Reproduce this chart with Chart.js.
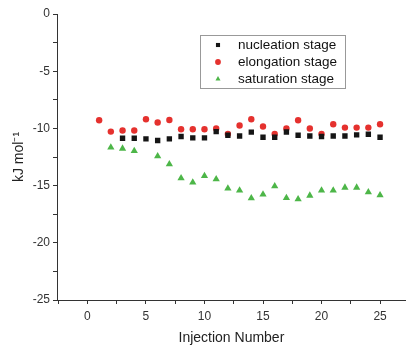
<!DOCTYPE html>
<html lang="en">
<head>
    <meta charset="UTF-8">
    <title>Injection stages</title>
    <script src="https://cdn.jsdelivr.net/npm/chart.js"></script>
    <style>
        body { margin: 0; background: #fff; }
        canvas { display: block; }
    </style>
</head>
<body>
    <canvas id="stageChart" width="410" height="347"></canvas>

    <script>
        // values
        const nucleationX = [3, 4, 5, 6, 7, 8, 9, 10, 11, 12, 13, 14, 15, 16, 17, 18, 19, 20, 21, 22, 23, 24, 25];
        const nucleationY = [-10.86, -10.86, -10.92, -11.06, -10.92, -10.71, -10.83, -10.83, -10.28, -10.6, -10.66, -10.33,
            -10.77, -10.77, -10.31, -10.6, -10.66, -10.71, -10.66, -10.66, -10.57, -10.51, -10.77];

        const elongationX = [1, 2, 3, 4, 5, 6, 7, 8, 9, 10, 11, 12, 13, 14, 15, 16, 17, 18, 19, 20, 21, 22, 23, 24, 25];
        const elongationY = [-9.29, -10.28, -10.19, -10.19, -9.2, -9.49, -9.26, -10.07, -10.07, -10.07, -10.01, -10.48,
            -9.75, -9.2, -9.84, -10.48, -10.01, -9.29, -10.01, -10.48, -9.64, -9.93, -9.93, -9.93, -9.64];

        const saturationX = [2, 3, 4, 6, 7, 8, 9, 10, 11, 12, 13, 14, 15, 16, 17, 18, 19, 20, 21, 22, 23, 24, 25];
        const saturationY = [-11.67, -11.76, -11.97, -12.43, -13.13, -14.35, -14.73, -14.15, -14.44, -15.25, -15.43, -16.1,
            -15.78, -15.05, -16.07, -16.19, -15.87, -15.43, -15.43, -15.17, -15.17, -15.57, -15.84];

        const xTicks = [-2.5, 0, 2.5, 5, 7.5, 10, 12.5, 15, 17.5, 20, 22.5, 25];
        const yTicks = [-25, -22.5, -20, -17.5, -15, -12.5, -10, -7.5, -5, -2.5, 0];

        const toPoints = (xs, ys) => xs.map((x, i) => ({ x: x, y: ys[i] }));

        const axisColor = '#333';
        const labelFont = { family: 'Liberation Sans, Arial, sans-serif', size: 12 };
        const titleFont = { family: 'Liberation Sans, Arial, sans-serif', size: 14 };

        // legend box inside the plot, drawn with the dataset marker styles
        const boxLegend = {
            id: 'boxLegend',
            afterDraw(chart) {
                const ctx = chart.ctx;
                ctx.save();
                ctx.strokeStyle = '#999';
                ctx.lineWidth = 1;
                ctx.strokeRect(200.5, 35.5, 145, 53);
                ctx.font = '13.5px "Liberation Sans", Arial, sans-serif';
                ctx.textBaseline = 'middle';
                chart.data.datasets.forEach((ds, i) => {
                    const y = 45 + i * 17;
                    ctx.fillStyle = ds.backgroundColor;
                    ctx.strokeStyle = ds.backgroundColor;
                    Chart.helpers.drawPoint(ctx, { pointStyle: ds.pointStyle, radius: 2.9, borderWidth: 0 }, 218, y);
                    ctx.fillStyle = '#111';
                    ctx.fillText(ds.label, 238, y + 0.5);
                });
                ctx.restore();
            }
        };

        const stageChart = new Chart(document.getElementById('stageChart'), {
            type: 'scatter',
            data: {
                datasets: [
                    {
                        label: 'nucleation stage',
                        data: toPoints(nucleationX, nucleationY),
                        pointStyle: 'rect',
                        pointRadius: 3.8,
                        backgroundColor: '#151515',
                        borderColor: '#151515',
                        borderWidth: 0,
                    },
                    {
                        label: 'elongation stage',
                        data: toPoints(elongationX, elongationY),
                        pointStyle: 'circle',
                        pointRadius: 3.2,
                        backgroundColor: '#e5312e',
                        borderColor: '#e5312e',
                        borderWidth: 0,
                    },
                    {
                        label: 'saturation stage',
                        data: toPoints(saturationX, saturationY),
                        pointStyle: 'triangle',
                        pointRadius: 4.2,
                        backgroundColor: '#4db648',
                        borderColor: '#4db648',
                        borderWidth: 0,
                    },
                ],
            },
            options: {
                responsive: false,
                animation: false,
                layout: { padding: { top: 14, right: 0, bottom: 0, left: 0 } },
                plugins: {
                    legend: { display: false },
                    tooltip: { enabled: false },
                },
                scales: {
                    x: {
                        type: 'linear',
                        min: -2.6,
                        max: 27.2,
                        afterBuildTicks: axis => { axis.ticks = xTicks.map(v => ({ value: v })); },
                        afterFit: axis => { axis.height = 47; },
                        border: { color: axisColor, width: 1 },
                        grid: { drawOnChartArea: false, tickLength: 4, color: axisColor },
                        ticks: {
                            autoSkip: false,
                            maxRotation: 0,
                            padding: 5,
                            color: '#333',
                            font: labelFont,
                            callback: v => (v % 5 === 0 ? v : ''),
                        },
                        title: {
                            display: true,
                            text: 'Injection Number',
                            color: '#222',
                            font: titleFont,
                            padding: { top: 0, bottom: 0 },
                        },
                    },
                    y: {
                        min: -25,
                        max: 0,
                        afterBuildTicks: axis => { axis.ticks = yTicks.map(v => ({ value: v })); },
                        afterFit: axis => { axis.width = 57; },
                        border: { color: axisColor, width: 1 },
                        grid: { drawOnChartArea: false, tickLength: 4, color: axisColor },
                        ticks: {
                            autoSkip: false,
                            padding: 3,
                            color: '#333',
                            font: labelFont,
                            callback: v => (v % 5 === 0 ? v : ''),
                        },
                        title: {
                            display: true,
                            text: 'kJ mol\u207B\u00B9',
                            color: '#222',
                            font: titleFont,
                            padding: { top: 11, bottom: 0 },
                        },
                    },
                },
            },
            plugins: [boxLegend],
        });
    </script>
</body>
</html>
